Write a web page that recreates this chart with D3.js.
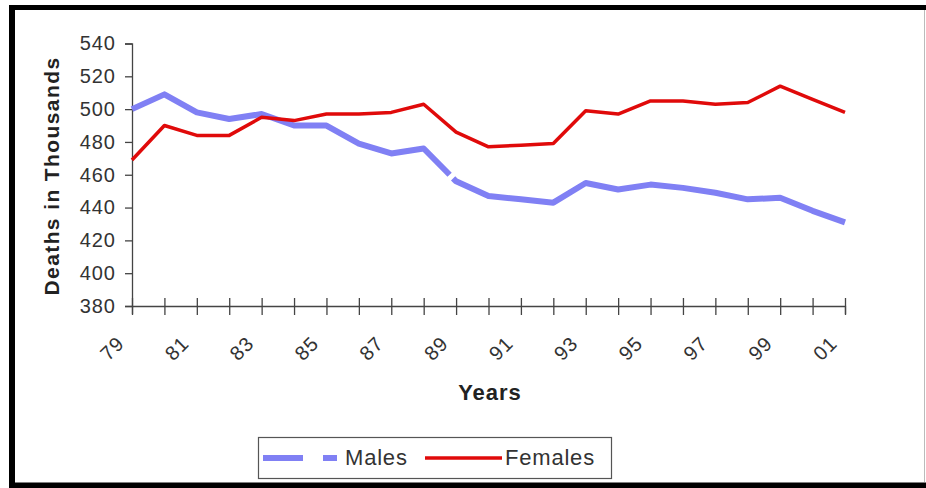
<!DOCTYPE html>
<html>
<head>
<meta charset="utf-8">
<script src="https://cdn.jsdelivr.net/npm/d3@7"></script>
<style>
  html, body { margin: 0; padding: 0; background: #fff; }
  svg { display: block; font-family: "Liberation Sans", Arial, sans-serif; }
</style>
</head>
<body>
<svg id="chart" width="926" height="488"></svg>
<script>
const years = ["79","80","81","82","83","84","85","86","87","88","89","90","91","92","93","94","95","96","97","98","99","00","01"];
const tickLabels = ["79","81","83","85","87","89","91","93","95","97","99","01"];
const yTicks = [380,400,420,440,460,480,500,520,540];
const males = [500,509,498,494,497,490,490,479,473,476,456,447,445,443,455,451,454,452,449,445,446,438,431];
const females = [469,490,484,484,495,493,497,497,498,503,486,477,478,479,499,497,505,505,503,504,514,506,498];
const seriesNames = ["Males","Females"];

(function () {
const svg = d3.select("#chart");
const plotLeft = 132, plotRight = 845, plotTop = 43.5, plotBottom = 306;

const x = d3.scalePoint().domain(years).range([plotLeft, plotRight]).padding(0);
const y = d3.scaleLinear().domain([380, 540]).range([plotBottom, plotTop]);

const axisColor = "#444";
const textColor = "#333";

// outer frame
svg.append("line").attr("x1", 9).attr("x2", 926).attr("y1", 7.5).attr("y2", 7.5).attr("stroke", "#000").attr("stroke-width", 5);
svg.append("line").attr("x1", 12).attr("x2", 12).attr("y1", 5).attr("y2", 488).attr("stroke", "#000").attr("stroke-width", 6);
svg.append("line").attr("x1", 9).attr("x2", 926).attr("y1", 485.5).attr("y2", 485.5).attr("stroke", "#000").attr("stroke-width", 6);
svg.append("line").attr("x1", 924.5).attr("x2", 924.5).attr("y1", 10).attr("y2", 482).attr("stroke", "#bbb").attr("stroke-width", 1);

// y axis
const yAxis = d3.axisLeft(y).tickValues(yTicks).tickSize(7).tickPadding(9).tickFormat(d3.format("d"));
const gy = svg.append("g").attr("transform", `translate(${plotLeft},0)`).call(yAxis);
gy.select(".domain").attr("stroke", axisColor).attr("stroke-width", 1.3);
gy.selectAll(".tick line").attr("stroke", axisColor).attr("stroke-width", 1.3);
gy.selectAll(".tick text").attr("font-size", 20).attr("letter-spacing", 1).attr("fill", textColor)
  .attr("font-family", "Liberation Sans, Arial, sans-serif");

// x axis (ticks crossing axis)
const xAxis = d3.axisBottom(x).tickSize(8).tickFormat("");
const gx = svg.append("g").attr("transform", `translate(0,${plotBottom})`).call(xAxis);
gx.select(".domain").attr("stroke", axisColor).attr("stroke-width", 1.3);
gx.selectAll(".tick line").attr("y1", -8).attr("y2", 9).attr("stroke", axisColor).attr("stroke-width", 1.3);

// x tick labels rotated
svg.append("g").selectAll("text").data(tickLabels).join("text")
  .attr("transform", d => `translate(${x(d) - 17},${334}) rotate(-45)`)
  .attr("text-anchor", "end")
  .attr("dy", "0.75em")
  .attr("font-size", 20)
  .attr("letter-spacing", 1)
  .attr("fill", textColor)
  .text(d => d);

// axis titles
svg.append("text")
  .attr("transform", `translate(59,176) rotate(-90)`)
  .attr("text-anchor", "middle")
  .attr("font-size", 21)
  .attr("letter-spacing", 1.4)
  .attr("font-weight", "bold")
  .attr("fill", "#222")
  .text("Deaths in Thousands");

svg.append("text")
  .attr("x", 490).attr("y", 400)
  .attr("text-anchor", "middle")
  .attr("font-size", 22)
  .attr("letter-spacing", 1)
  .attr("font-weight", "bold")
  .attr("fill", "#222")
  .text("Years");

const line = d3.line().x((d, i) => x(years[i])).y(d => y(d));

// Males line: dashed pattern with single visible gap near 89
const mPts = males.map((v, i) => [x(years[i]), y(v)]);
let gapStart = 0;
for (let i = 0; i < 9; i++) {
  gapStart += Math.hypot(mPts[i+1][0] - mPts[i][0], mPts[i+1][1] - mPts[i][1]);
}
{
  const a = mPts[9], b = mPts[10];
  const segLen = Math.hypot(b[0] - a[0], b[1] - a[1]);
  gapStart += segLen * 0.8;
}
svg.append("path").datum(males)
  .attr("d", line)
  .attr("fill", "none")
  .attr("stroke", "#8080f4")
  .attr("stroke-width", 6)
  .attr("stroke-linejoin", "round")
  .attr("stroke-dasharray", `${gapStart},5,3000`);

svg.append("path").datum(females)
  .attr("d", line)
  .attr("fill", "none")
  .attr("stroke", "#e00a0a")
  .attr("stroke-width", 3.5)
  .attr("stroke-linejoin", "round");

// legend
const lg = svg.append("g");
lg.append("rect").attr("x", 258.5).attr("y", 437.5).attr("width", 353).attr("height", 41)
  .attr("fill", "#fff").attr("stroke", "#555").attr("stroke-width", 1.2);
lg.append("line").attr("x1", 263).attr("x2", 337).attr("y1", 458).attr("y2", 458)
  .attr("stroke", "#8080f4").attr("stroke-width", 6).attr("stroke-dasharray", "40,20,14,100");
lg.append("text").attr("x", 345).attr("y", 465).attr("font-size", 22).attr("letter-spacing", 0.8)
  .attr("fill", textColor).text(seriesNames[0]);
lg.append("line").attr("x1", 425).attr("x2", 502).attr("y1", 458).attr("y2", 458)
  .attr("stroke", "#e00a0a").attr("stroke-width", 3.5);
lg.append("text").attr("x", 505).attr("y", 465).attr("font-size", 22).attr("letter-spacing", 0.8)
  .attr("fill", textColor).text(seriesNames[1]);
})();
</script>
</body>
</html>
